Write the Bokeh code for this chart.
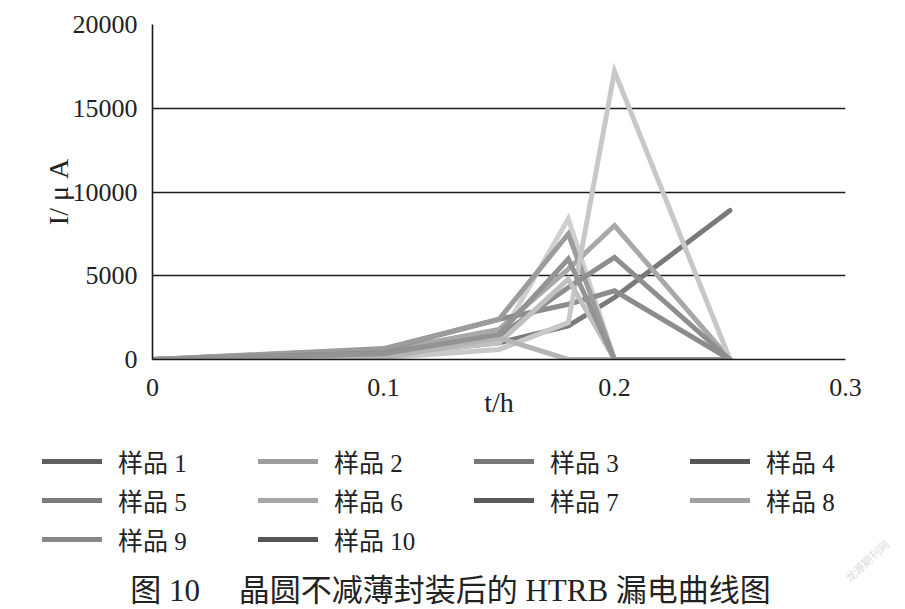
from bokeh.plotting import figure
from bokeh.layouts import column
from bokeh.models import Range1d, FixedTicker, NumeralTickFormatter, Legend, LegendItem, Label
from bokeh.embed import file_html
from bokeh.resources import INLINE

# ---- data ----
t_h = [0, 0.1, 0.15, 0.18, 0.2, 0.25]
sample_1 = [0, 300, 1000, 2000, 3700, 8900]
sample_2 = [0, 200, 1200, 8400, 0, 0]
sample_3 = [0, 500, 1800, 5400, 8000, 0]
sample_4 = [0, 600, 2400, 3300, 4100, 0]
sample_5 = [0, 650, 2400, 7500, 0, 0]
sample_6 = [0, 100, 600, 2200, 17200, 0]
sample_7 = [0, 400, 1400, 4300, 6100, 0]
sample_8 = [0, 250, 1000, 4800, 0, 0]
sample_9 = [0, 100, 1300, 0, 0, 0]
sample_10 = [0, 350, 1500, 6000, 0, 0]
series = [sample_1, sample_2, sample_3, sample_4, sample_5,
          sample_6, sample_7, sample_8, sample_9, sample_10]
labels = ["样品 1", "样品 2", "样品 3", "样品 4", "样品 5",
          "样品 6", "样品 7", "样品 8", "样品 9", "样品 10"]
line_colors = ["#7a7a7a", "#cfcfcf", "#a8a8a8", "#8c8c8c", "#9c9c9c",
               "#c8c8c8", "#8e8e8e", "#c0c0c0", "#b4b4b4", "#939393"]
legend_colors = ["#606060", "#9c9c9c", "#787878", "#555555", "#7c7c7c",
                 "#a6a6a6", "#5c5c5c", "#a0a0a0", "#888888", "#555555"]
x_ticks = [0, 0.1, 0.2, 0.3]
y_ticks = [0, 5000, 10000, 15000, 20000]
x_label = "t/h"
y_label = "I/ μ A"
title_text = "图 10　 晶圆不减薄封装后的 HTRB 漏电曲线图"
watermark = "龙源期刊网"

FONT = "Liberation Serif, Noto Sans CJK SC"
TXT = "#222222"

# ---- main chart ----
p = figure(width=897, height=440, output_backend="svg", toolbar_location=None,
           x_range=Range1d(0, 0.3), y_range=Range1d(0, 20000),
           min_border_left=152, min_border_right=52,
           min_border_top=24, min_border_bottom=81)
p.frame_align = False
p.outline_line_color = None
p.background_fill_color = "white"
p.border_fill_color = "white"

p.xgrid.grid_line_color = None
p.ygrid.grid_line_color = "#1a1a1a"
p.ygrid.grid_line_width = 1.6
p.ygrid.ticker = FixedTicker(ticks=y_ticks)

for ax in (p.xaxis[0], p.yaxis[0]):
    ax.axis_line_color = "#1a1a1a"
    ax.axis_line_width = 1.6
    ax.major_tick_line_color = None
    ax.minor_tick_line_color = None
    ax.major_label_text_font = FONT
    ax.major_label_text_font_size = "26px"
    ax.major_label_text_color = TXT
    ax.axis_label_text_font = FONT
    ax.axis_label_text_font_size = "28px"
    ax.axis_label_text_font_style = "normal"
    ax.axis_label_text_color = TXT

p.xaxis.ticker = FixedTicker(ticks=x_ticks)
p.xaxis.major_label_overrides = {0: "0", 0.1: "0.1", 0.2: "0.2", 0.3: "0.3"}
p.xaxis.axis_label = x_label
p.xaxis.major_label_standoff = 13
p.xaxis.axis_label_standoff = -12

p.yaxis.ticker = FixedTicker(ticks=y_ticks)
p.yaxis.formatter = NumeralTickFormatter(format="0")
p.yaxis.axis_label = y_label
p.yaxis.major_label_standoff = 9
p.yaxis.axis_label_standoff = -4

for vals, col in zip(series, line_colors):
    p.line(t_h, vals, line_color=col, line_width=5,
           line_join="miter", line_cap="round")

# ---- legend + caption panel (series kept out of its visible range) ----
p2 = figure(width=897, height=167, output_backend="svg", toolbar_location=None,
            x_range=Range1d(0, 1), y_range=Range1d(-2, -1),
            x_axis_type=None, y_axis_type=None,
            min_border_left=0, min_border_right=0,
            min_border_top=0, min_border_bottom=0)
p2.frame_align = False
p2.outline_line_color = None
p2.background_fill_color = "white"
p2.border_fill_color = "white"

items = []
for vals, lab, col in zip(series, labels, legend_colors):
    r = p2.line(t_h, vals, line_color=col, line_width=5, line_cap="round")
    items.append(LegendItem(label=lab, renderers=[r]))

legend = Legend(items=items, location=(42, 50), orientation="horizontal",
                ncols=4, padding=0, margin=0, spacing=3, label_standoff=16,
                glyph_width=60, glyph_height=26, label_width=137, label_height=26,
                border_line_color=None, background_fill_alpha=0,
                label_text_font=FONT, label_text_font_size="25px",
                label_text_color=TXT)
p2.add_layout(legend)

p2.add_layout(Label(x=450, y=17, x_units="screen", y_units="screen",
                    text=title_text, text_align="center", text_baseline="middle",
                    text_font=FONT, text_font_size="31px", text_color=TXT))

p2.add_layout(Label(x=866, y=47, x_units="screen", y_units="screen",
                    text=watermark, text_align="center", text_baseline="middle",
                    angle=0.75, text_font="Noto Sans CJK SC",
                    text_font_size="11px", text_color="#dcdcdc"))

open("out.html", "w").write(file_html(column(p, p2, spacing=0), INLINE))
